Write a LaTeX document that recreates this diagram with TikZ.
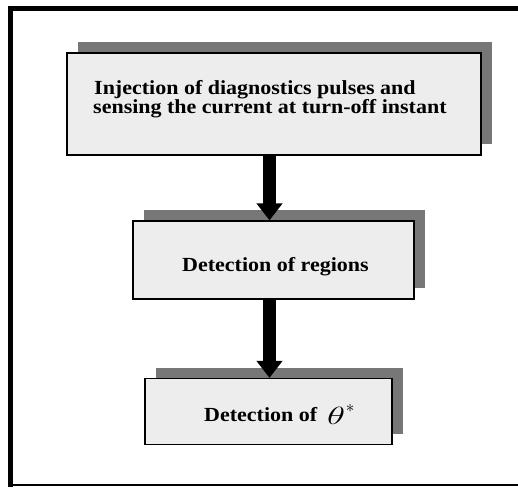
\documentclass[tikz,border=0pt]{standalone}
\usepackage{fontspec}
\setmainfont{Liberation Serif}
\newfontfamily\labelfont[FakeStretch=1.1]{Liberation Serif}
\usetikzlibrary{arrows.meta,shadows}
\definecolor{boxfill}{RGB}{237,237,237}
\definecolor{shadowgray}{RGB}{119,119,119}
\begin{document}
\begin{tikzpicture}[x=1pt,y=-1pt,
  stepbox/.style={draw=black,line width=1.2pt,fill=boxfill,inner sep=0pt,
    drop shadow={shadow xshift=11pt,shadow yshift=11pt,fill=shadowgray,opacity=1}},
  boxtext/.style={inner sep=0pt,anchor=base west,font=\labelfont\bfseries\fontsize{20}{18}\selectfont},
  flow/.style={line width=13pt,-{Triangle[width=25pt,length=17pt]}},
  frameline/.style={line width=5pt,line cap=butt}]
\useasboundingbox (0,0) rectangle (518,487);

% outer frame (open on the right)
\draw[frameline] (10.5,6) -- (10.5,487);
\draw[frameline] (8,8.5) -- (518,8.5);
\draw[line width=2pt] (13,485) -- (518,485);

% process boxes
\node[stepbox,minimum width=414pt,minimum height=102pt] (b1) at (274,104) {};
\node[stepbox,minimum width=281pt,minimum height=78pt] (b2) at (273.5,260) {};
\node[stepbox,minimum width=247pt,minimum height=66pt] (b3) at (268.5,411.5) {};

% box labels
\node[boxtext] (t1a) at (94,94) {Injection of diagnostics pulses and};
\node[boxtext] (t1b) at (93,113) {sensing the current at turn-off instant};
\node[boxtext] (t2) at (182,271.7) {Detection of regions};
\node[boxtext] (t3) at (204,421.7)
  {Detection of\hspace{10pt}\raisebox{-3pt}{\scalebox{1.5}[1]{\fontsize{24}{24}\selectfont$\theta$}}\hspace{0.5pt}\raisebox{9pt}{\fontsize{17}{17}\selectfont$*$}};

% flow arrows
\coordinate (ax) at (269.5,0);
\draw[flow] (b1.south -| ax) -- (b2.north -| ax);
\draw[flow] (b2.south -| ax) -- (b3.north -| ax);
\end{tikzpicture}
\end{document}
